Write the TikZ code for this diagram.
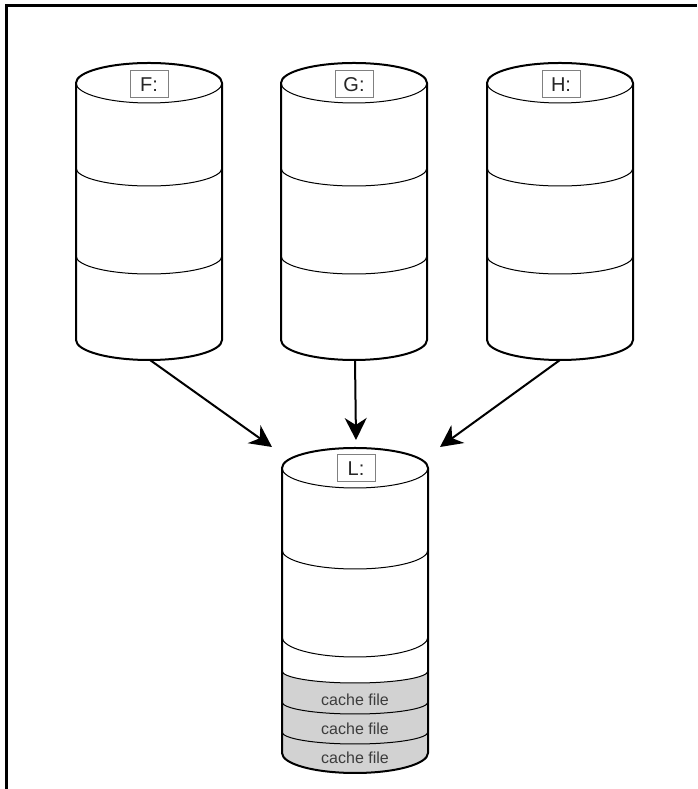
\documentclass[tikz,border=0pt]{standalone}
\usepackage{fontspec}
\setmainfont{Liberation Sans}
\usetikzlibrary{arrows.meta}
\definecolor{cachegray}{RGB}{210,210,210}
\definecolor{boxgray}{RGB}{128,128,128}
\definecolor{txtgray}{RGB}{60,60,60}
\tikzset{
  outer/.style={line width=2pt, line join=round},
  inner/.style={line width=1pt},
  drivelabel/.style={draw=boxgray, line width=1pt, fill=white, minimum width=38pt, minimum height=27pt, inner sep=0pt, font=\fontsize{20}{22}\selectfont, text=black!85},
  cachetext/.style={font=\fontsize{16}{18}\selectfont, text=txtgray, inner sep=0pt},
  flow/.style={line width=2pt, -{Stealth[length=22pt, width=22pt, inset=7pt]}},
  framestyle/.style={line width=3pt, line join=miter},
}
\newcommand\mycyl[3]{% cx, topY, botY
  \draw[inner] ({#1-73},#2) arc[start angle=180, end angle=360, x radius=73pt, y radius=20pt];
  \draw[outer] ({#1-73},#2) arc[start angle=180, end angle=0, x radius=73pt, y radius=20pt]
     -- ({#1+73},#3) arc[start angle=0, end angle=-180, x radius=73pt, y radius=20pt] -- cycle;
}
\newcommand\mydiv[3]{% cx, Y, ry
  \draw[inner] ({#1-73},#2) arc[start angle=180, end angle=360, x radius=73pt, y radius=#3pt];
}
\begin{document}
\begin{tikzpicture}[x=1pt, y=1pt]
\useasboundingbox (0,0) rectangle (697,789);
% frame (top and left edges only)
\coordinate (frameBL) at (6,0);
\coordinate (frameTL) at (6,783.5);
\coordinate (frameTR) at (697,783.5);
\draw[framestyle] (frameBL) -- (frameTL) -- (frameTR);

% upper drives
\foreach \cx in {149,354,560}{
  \mycyl{\cx}{706}{449}
  \mydiv{\cx}{621}{18}
  \mydiv{\cx}{533}{18}
}
\node[drivelabel] (Flab) at (149,704.5) {F:};
\node[drivelabel] (Glab) at (354,704.5) {G:};
\node[drivelabel] (Hlab) at (561,704.5) {H:};

% lower drive L
\fill[cachegray] (282,118) arc[start angle=180, end angle=360, x radius=73pt, y radius=12pt]
   -- (428,36) arc[start angle=0, end angle=-180, x radius=73pt, y radius=20pt] -- cycle;
\mycyl{355}{321}{36}
\mydiv{355}{239}{19}
\mydiv{355}{152}{20}
\mydiv{355}{118}{12}
\mydiv{355}{87}{12}
\mydiv{355}{57}{12}
\node[drivelabel] (Llab) at (356,320.5) {L:};
\node[cachetext] (c1) at (355,89) {cache file};
\node[cachetext] (c2) at (355,60) {cache file};
\node[cachetext] (c3) at (355,31) {cache file};

% connectors
\coordinate (Fbot) at (150,429);
\coordinate (Gbot) at (355,429);
\coordinate (Hbot) at (560,429);
\coordinate (LinF) at (272,342);
\coordinate (LinG) at (356,349);
\coordinate (LinH) at (440,342);
\draw[flow] (Fbot) -- (LinF);
\draw[flow] (Gbot) -- (LinG);
\draw[flow] (Hbot) -- (LinH);
\end{tikzpicture}
\end{document}
